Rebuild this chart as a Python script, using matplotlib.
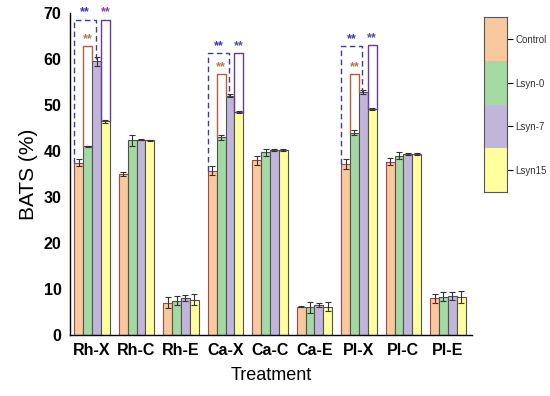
import matplotlib
matplotlib.use("Agg")
import matplotlib.pyplot as plt
import numpy as np
from matplotlib.patches import Rectangle

plt.rcParams["font.family"] = ["Liberation Sans", "DejaVu Sans"]

categories = ["Rh-X", "Rh-C", "Rh-E", "Ca-X", "Ca-C", "Ca-E", "Pl-X", "Pl-C", "Pl-E"]
series = ["Control", "Lsyn-0", "Lsyn-7", "Lsyn15"]
control = [37.5, 35.0, 7.0, 35.7, 38.0, 6.2, 37.2, 37.7, 8.0]
lsyn0 = [41.0, 42.3, 7.5, 43.0, 39.7, 6.0, 44.0, 39.0, 8.3]
lsyn7 = [59.5, 42.5, 8.0, 52.0, 40.2, 6.5, 52.8, 39.3, 8.5]
lsyn15 = [46.5, 42.3, 7.7, 48.5, 40.2, 6.2, 49.2, 39.4, 8.3]
err_control = [0.7, 0.5, 1.2, 1.0, 1.0, 0.2, 1.0, 0.8, 1.0]
err_lsyn0 = [0.2, 1.2, 1.0, 0.5, 0.8, 1.2, 0.5, 0.8, 1.0]
err_lsyn7 = [1.0, 0.2, 0.7, 0.3, 0.2, 0.5, 0.4, 0.2, 0.8]
err_lsyn15 = [0.3, 0.2, 1.2, 0.2, 0.2, 1.0, 0.2, 0.2, 1.3]
# significance brackets: group index, blue-dashed top, brown top, purple top
sig_groups = [0, 3, 6]
sig_blue = [68.5, 61.3, 62.8]
sig_brown = [62.8, 56.7, 56.7]
sig_purple = [68.5, 61.3, 63.0]

values = [control, lsyn0, lsyn7, lsyn15]
errors = [err_control, err_lsyn0, err_lsyn7, err_lsyn15]
colors = ["#f8c99c", "#a4d9a4", "#c2b5dc", "#ffffa0"]
edges = ["#a04848", "#505050", "#505050", "#505050"]

fig = plt.figure(figsize=(5.5, 3.96), dpi=100)
ax = fig.add_axes([0.127, 0.154, 0.731, 0.813])
x = np.arange(len(categories))
w = 0.2
for i in range(4):
    xs = x + (i - 1.5) * w
    ax.bar(xs, values[i], width=w, color=colors[i], edgecolor=edges[i], linewidth=0.8, zorder=2)
    ax.errorbar(xs, values[i], yerr=errors[i], fmt="none", ecolor="#333333",
                elinewidth=0.8, capsize=2.5, capthick=0.8, zorder=3)

for k, g in enumerate(sig_groups):
    c0 = g - 2 * w
    l0l = g - w
    l7l = g
    l15l = g + w
    l15r = g + 2 * w
    xb = [c0, c0, g + 0.08, g + 0.08]
    yb = [control[g], sig_blue[k], sig_blue[k], lsyn7[g]]
    ax.plot(xb, yb, color="#3a3ab0", lw=1.0, ls=(0, (4, 2.5)), zorder=4)
    ax.text((c0 + g + 0.08) / 2, sig_blue[k] + 0.3, "**", color="#3a3ab0",
            ha="center", va="bottom", fontsize=9, fontweight="bold")
    ax.plot([l0l, l0l, l7l, l7l], [lsyn0[g], sig_brown[k], sig_brown[k], lsyn7[g]],
            color="#b0603a", lw=1.0, zorder=4)
    ax.text((l0l + l7l) / 2, sig_brown[k] + 0.3, "**", color="#b07a50",
            ha="center", va="bottom", fontsize=9, fontweight="bold")
    ax.plot([l15l, l15l, l15r, l15r], [lsyn15[g], sig_purple[k], sig_purple[k], lsyn15[g]],
            color="#6a3a90", lw=1.0, zorder=4)
    ax.text((l15l + l15r) / 2, sig_purple[k] + 0.3, "**",
            color="#7a4a9a" if k == 0 else "#5050a8",
            ha="center", va="bottom", fontsize=9, fontweight="bold")

ax.set_xlim(-0.5, 8.54)
ax.set_ylim(0, 70)
ax.set_yticks(range(0, 71, 10))
ax.set_xticks(x)
ax.set_xticklabels(categories, fontsize=11.5, fontweight="bold")
for lab in ax.get_yticklabels():
    lab.set_fontweight("bold")
    lab.set_fontsize(11.5)
ax.tick_params(axis="both", length=0, pad=6)
ax.spines["top"].set_visible(False)
ax.spines["right"].set_visible(False)
ax.spines["left"].set_linewidth(1.0)
ax.spines["bottom"].set_linewidth(1.0)
ax.set_ylabel("BATS (%)", fontsize=15, labelpad=4)
ax.set_xlabel("Treatment", fontsize=13, labelpad=6)

# colorbar-like legend
lax = fig.add_axes([484 / 550, 1 - 192 / 396, 23 / 550, 175 / 396])
for i in range(4):
    lax.add_patch(Rectangle((0, 3 - i), 1, 1, facecolor=colors[i], edgecolor="none"))
lax.set_xlim(0, 1)
lax.set_ylim(0, 4)
lax.set_xticks([])
lax.yaxis.tick_right()
lax.set_yticks([3.5, 2.5, 1.5, 0.5])
lax.set_yticklabels(series, fontsize=7, color="#333333")
lax.tick_params(axis="y", length=4, width=0.8, pad=2)
for s in lax.spines.values():
    s.set_linewidth(0.8)
    s.set_color("#555555")

fig.savefig("out.png", dpi=100)
